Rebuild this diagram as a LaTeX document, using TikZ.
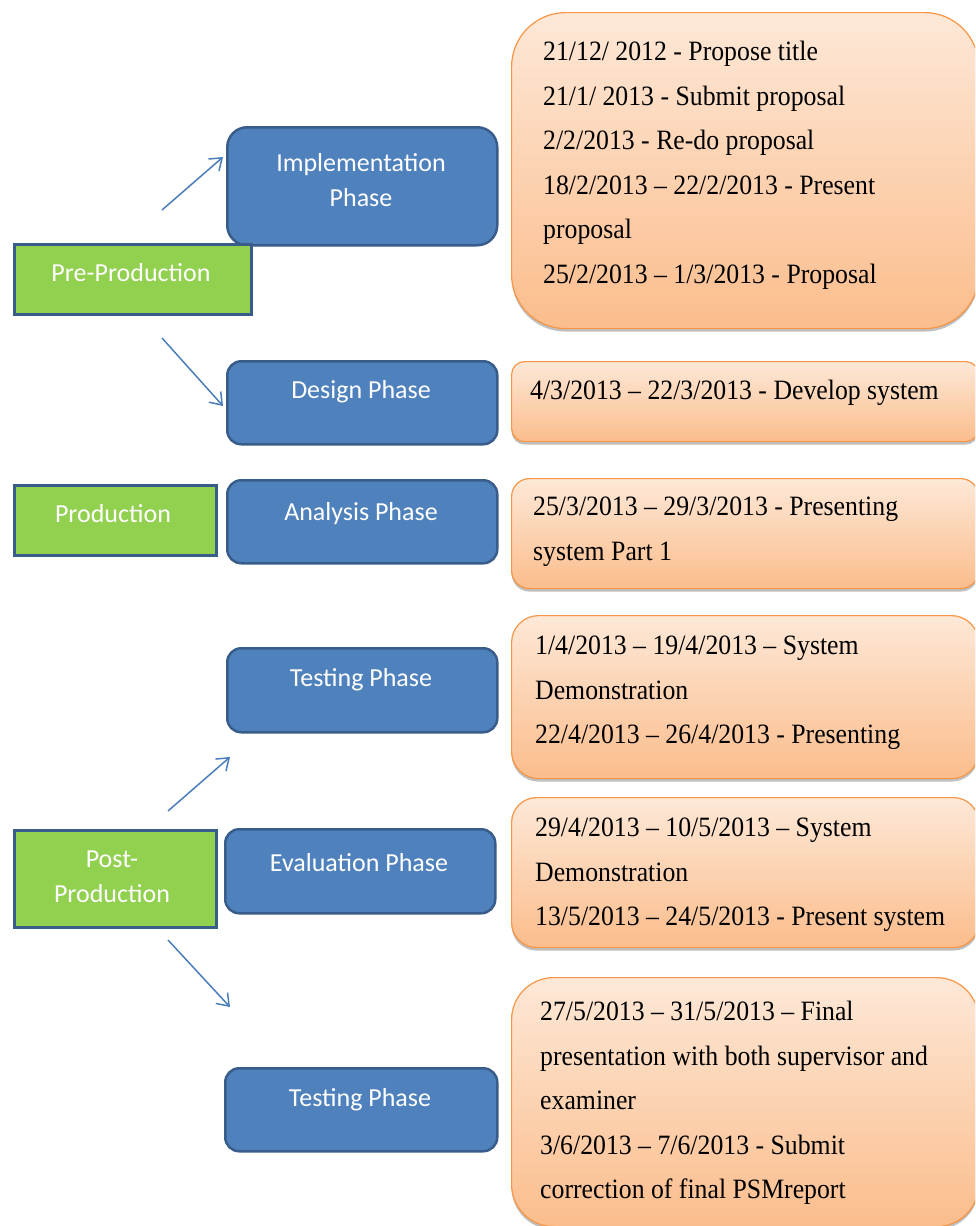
\documentclass[tikz,border=0pt]{standalone}
\usepackage{fontspec}
\newfontfamily\calfont{Carlito}
\newfontfamily\tnrfont[FakeStretch=0.92]{Liberation Serif}
\usetikzlibrary{arrows.meta,shadows}
\definecolor{bluefill}{HTML}{4F81BD}
\definecolor{blueline}{HTML}{385D8A}
\definecolor{greenfill}{HTML}{92D050}
\definecolor{orangeline}{HTML}{F79646}
\definecolor{orangetop}{HTML}{FDE8D7}
\definecolor{orangebot}{HTML}{FBBD8C}
\definecolor{arrowblue}{HTML}{4A7EBB}
\begin{document}
\begin{tikzpicture}[x=1pt,y=-1pt,
  phasebox/.style={draw=blueline, line width=2.5pt, fill=bluefill, rounded corners=#1,
    inner sep=0pt, anchor=north west},
  phasebox/.default=14pt,
  stagebox/.style={draw=blueline, line width=2.5pt, fill=greenfill, inner sep=0pt, anchor=north west},
  datebox/.style={draw=orangeline, line width=1.2pt, top color=orangetop, bottom color=orangebot,
    rounded corners=#1, inner sep=0pt, anchor=north west,
    drop shadow={shadow xshift=0pt, shadow yshift=-3pt, opacity=0.25, fill=black}},
  boxtext/.style={text=white, inner sep=0pt, align=center,
    font=\calfont\fontsize{26pt}{35pt}\selectfont},
  datetext/.style={text=black, inner sep=0pt, align=left, anchor=north west,
    font=\tnrfont\fontsize{28pt}{44.5pt}\selectfont},
  conn/.style={draw=arrowblue, line width=1.5pt, -{Straight Barb[length=11pt,width=16pt]}}
]
\useasboundingbox (0,0) rectangle (975,1226);
\fill[white] (0,0) rectangle (975,1226);
\clip (0,0) rectangle (975,1226);

% orange date boxes
\node[datebox=54pt, minimum width=467pt, minimum height=316pt] (d1) at (511,12) {};
\node[datebox=13pt, minimum width=467pt, minimum height=80pt] (d2) at (511,361) {};
\node[datebox=18pt, minimum width=467pt, minimum height=110pt] (d3) at (511,478) {};
\node[datebox=27pt, minimum width=467pt, minimum height=163pt] (d4) at (511,615) {};
\node[datebox=25pt, minimum width=467pt, minimum height=150pt] (d5) at (511,797) {};
\node[datebox=42pt, minimum width=467pt, minimum height=249pt] (d6) at (511,977) {};

\node[datetext] (dt1) at (543,41) {21/12/ 2012 - Propose title\\21/1/ 2013 - Submit proposal\\2/2/2013 - Re-do proposal\\18/2/2013 – 22/2/2013 - Present\\proposal\\25/2/2013 – 1/3/2013 - Proposal};
\node[datetext] (dt2) at (530,380) {4/3/2013 – 22/3/2013 - Develop system};
\node[datetext] (dt3) at (533,497) {25/3/2013 – 29/3/2013 - Presenting\\system Part 1};
\node[datetext] (dt4) at (535,636) {1/4/2013 – 19/4/2013 – System\\Demonstration\\22/4/2013 – 26/4/2013 - Presenting};
\node[datetext] (dt5) at (535,818) {29/4/2013 – 10/5/2013 – System\\Demonstration\\13/5/2013 – 24/5/2013 - Present system};
\node[datetext] (dt6) at (540,1001) {27/5/2013 – 31/5/2013 – Final\\presentation with both supervisor and\\examiner\\3/6/2013 – 7/6/2013 - Submit\\correction of final PSMreport};

% blue phase boxes
\node[phasebox=20pt, minimum width=270pt, minimum height=118pt] (impl) at (226,126) {};
\node[phasebox, minimum width=270pt, minimum height=83pt] (design) at (226,360) {};
\node[phasebox, minimum width=270pt, minimum height=83pt] (analysis) at (226,479) {};
\node[phasebox, minimum width=270pt, minimum height=84pt] (test1) at (226,647) {};
\node[phasebox, minimum width=270pt, minimum height=84pt] (eval) at (224,828) {};
\node[phasebox, minimum width=272pt, minimum height=83pt] (test2) at (224,1067) {};

\node[boxtext] (implt) at (361,180) {Implementation\\Phase};
\node[boxtext] (designt) at (361,392) {Design Phase};
\node[boxtext] (analysist) at (361,514) {Analysis Phase};
\node[boxtext] (test1t) at (361,680) {Testing Phase};
\node[boxtext] (evalt) at (359,863) {Evaluation Phase};
\node[boxtext] (test2t) at (360,1100) {Testing Phase};

% green stage boxes
\node[stagebox, minimum width=237pt, minimum height=70pt] (pre) at (13,243) {};
\node[stagebox, minimum width=202pt, minimum height=70pt] (prod) at (13,484) {};
\node[stagebox, minimum width=202pt, minimum height=97pt] (post) at (13,829) {};

\node[boxtext] (pret) at (131,273) {Pre-Production};
\node[boxtext] (prodt) at (113,514) {Production};
\node[boxtext] (postt) at (112,877) {Post-\\Production};

% arrows
\coordinate (a1s) at (162,210); \coordinate (a1e) at (223,157);
\coordinate (a2s) at (162,338); \coordinate (a2e) at (223,406);
\coordinate (a3s) at (168,811); \coordinate (a3e) at (230,757);
\coordinate (a4s) at (168,940); \coordinate (a4e) at (230,1007);
\draw[conn] (a1s) -- (a1e);
\draw[conn] (a2s) -- (a2e);
\draw[conn] (a3s) -- (a3e);
\draw[conn] (a4s) -- (a4e);
\end{tikzpicture}
\end{document}
